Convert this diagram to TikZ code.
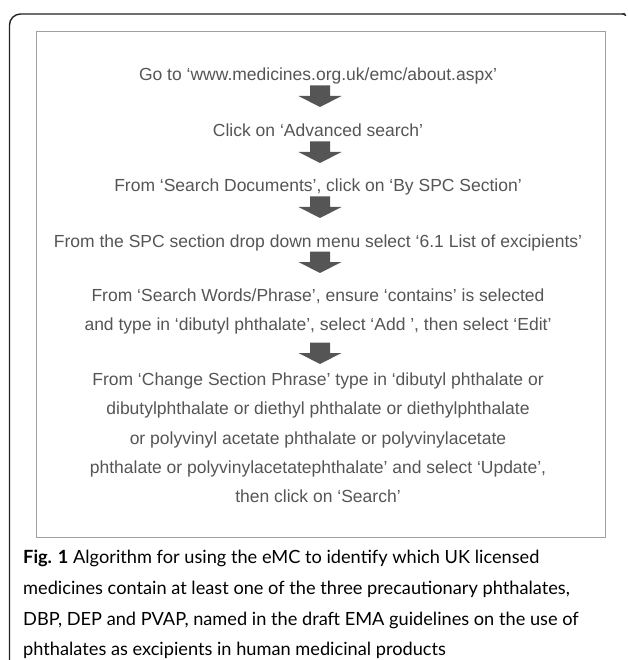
\documentclass[tikz,border=0pt]{standalone}
\usepackage{fontspec}
\setmainfont{Liberation Sans}
\newfontfamily\capfont{Lato}
\definecolor{txtgray}{HTML}{555555}
\definecolor{arrgray}{HTML}{555555}
\definecolor{boxgray}{HTML}{A0A0A0}
\definecolor{framecol}{HTML}{222222}
\begin{document}
\begin{tikzpicture}[x=1pt,y=-1pt,
  steptext/.style={text=txtgray, font=\fontsize{17.5}{29}\selectfont, anchor=base, inner sep=0pt},
  captext/.style={font=\capfont\fontsize{18.2}{31}\selectfont, anchor=base west, inner sep=0pt},
  downarrow/.pic={\fill[arrgray] (-10,-10.5) -- (10,-10.5) -- (10,0) -- (21.5,0) -- (0,11) -- (-21.5,0) -- (-10,0) -- cycle;}]
\useasboundingbox (0,0) rectangle (627,660);
% outer frame
\draw[framecol, line width=1.4pt, rounded corners=11pt] (9.5,662) -- (9.5,14) -- (625,14);
\draw[framecol, line width=1.4pt, rounded corners=1.5pt] (622,14) -- (625.5,14) -- (625.5,16);
% inner box
\node[draw=boxgray, line width=0.9pt, minimum width=569pt, minimum height=506pt, inner sep=0pt, anchor=north west] (frame) at (36,31) {};
% steps
\node[steptext] (s1) at (318,81) {Go to ‘www.medicines.org.uk/emc/about.aspx’};
\node[steptext] (s2) at (318,137) {Click on ‘Advanced search’};
\node[steptext] (s3) at (318,192) {From ‘Search Documents’, click on ‘By SPC Section’};
\node[steptext] (s4) at (318,247) {From the SPC section drop down menu select ‘6.1 List of excipients’};
\node[steptext] (s5a) at (318,301) {From ‘Search Words/Phrase’, ensure ‘contains’ is selected};
\node[steptext] (s5b) at (318,330) {and type in ‘dibutyl phthalate’, select ‘Add ’, then select ‘Edit’};
\node[steptext] (s6a) at (318,385) {From ‘Change Section Phrase’ type in ‘dibutyl phthalate or};
\node[steptext] (s6b) at (318,414) {dibutylphthalate or diethyl phthalate or diethylphthalate};
\node[steptext] (s6c) at (318,444) {or polyvinyl acetate phthalate or polyvinylacetate};
\node[steptext] (s6d) at (318,473) {phthalate or polyvinylacetatephthalate’ and select ‘Update’,};
\node[steptext] (s6e) at (318,502) {then click on ‘Search’};
% arrows
\pic at (320,96) {downarrow};
\pic at (320,152) {downarrow};
\pic at (320,207) {downarrow};
\pic at (320,262) {downarrow};
\pic at (320,353) {downarrow};
% caption
\node[captext] (c1) at (23,563) {{\bfseries Fig. 1} Algorithm for using the eMC to identify which UK licensed};
\node[captext] (c2) at (23,594) {medicines contain at least one of the three precautionary phthalates,};
\node[captext] (c3) at (23,625) {DBP, DEP and PVAP, named in the draft EMA guidelines on the use of};
\node[captext] (c4) at (23,655) {phthalates as excipients in human medicinal products};
\end{tikzpicture}
\end{document}
